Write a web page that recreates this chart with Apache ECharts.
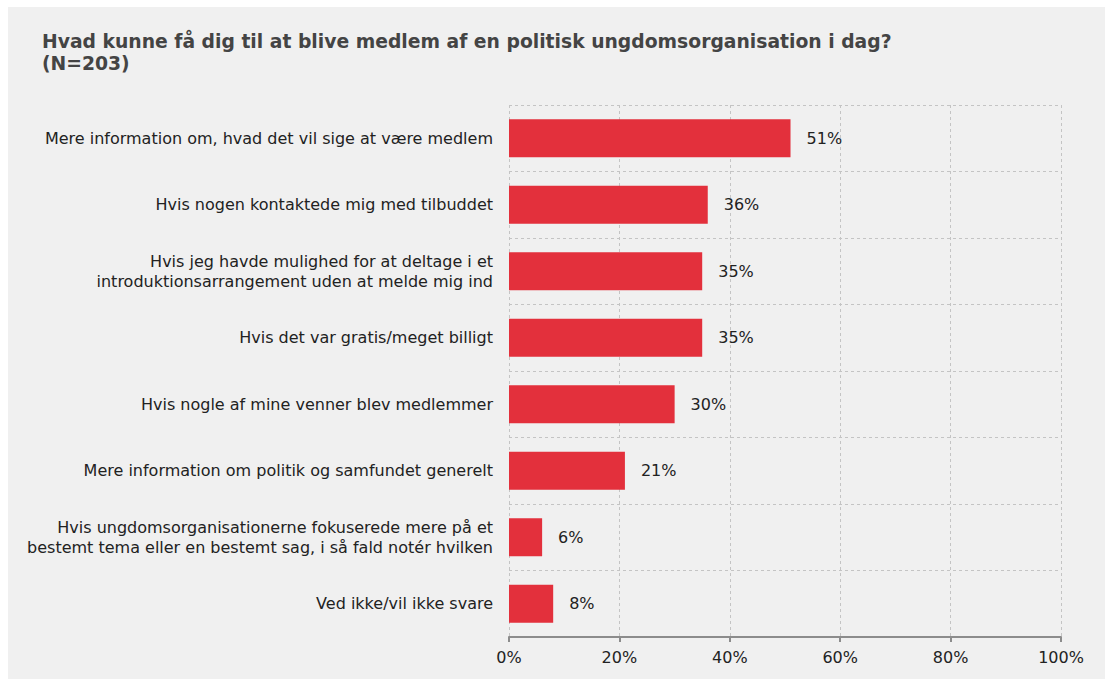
<!DOCTYPE html>
<html>
<head>
<meta charset="utf-8">
<script src="https://cdn.jsdelivr.net/npm/echarts@6/dist/echarts.min.js"></script>
<style>
html,body{margin:0;padding:0;background:#ffffff;font-family:"DejaVu Sans";}
#wrap{position:absolute;left:8px;top:7px;width:1097px;height:672px;background:#f0f0f0;}
#chart{width:1097px;height:672px;}
</style>
</head>
<body>
<div id="wrap"><div id="chart"></div></div>
<script>
const titleText = "Hvad kunne få dig til at blive medlem af en politisk ungdomsorganisation i dag?\n(N=203)";
const categories = [
  "Mere information om, hvad det vil sige at være medlem",
  "Hvis nogen kontaktede mig med tilbuddet",
  "Hvis jeg havde mulighed for at deltage i et\nintroduktionsarrangement uden at melde mig ind",
  "Hvis det var gratis/meget billigt",
  "Hvis nogle af mine venner blev medlemmer",
  "Mere information om politik og samfundet generelt",
  "Hvis ungdomsorganisationerne fokuserede mere på et\nbestemt tema eller en bestemt sag, i så fald notér hvilken",
  "Ved ikke/vil ikke svare"
];
const values = [51, 36, 35, 35, 30, 21, 6, 8];
const xTicks = [0, 20, 40, 60, 80, 100];

function draw() {
  const chart = echarts.init(document.getElementById('chart'), null, {renderer: 'svg'});
  const font = '"DejaVu Sans"';
  chart.setOption({
    backgroundColor: '#f0f0f0',
    animation: false,
    textStyle: {fontFamily: font},
    title: {
      text: titleText,
      left: 29,
      top: 18,
      textStyle: {fontFamily: font, fontSize: 18.75, fontWeight: 'bold', color: '#444444', lineHeight: 22.5}
    },
    grid: {left: 501, top: 98, right: 44, bottom: 42, containLabel: false},
    xAxis: {
      type: 'value',
      min: 0, max: 100, interval: 20,
      axisLine: {show: true, lineStyle: {color: '#8c8c8c', width: 2}},
      axisTick: {show: true, length: 5, lineStyle: {color: '#8c8c8c', width: 2}},
      axisLabel: {margin: 12, fontFamily: font, fontSize: 16, color: '#222222',
        formatter: v => xTicks.includes(v) ? v + '%' : ''},
      splitLine: {show: true, lineStyle: {color: '#c4c4c4', type: [3, 3], width: 1}}
    },
    yAxis: {
      type: 'category',
      data: categories,
      inverse: true,
      boundaryGap: true,
      axisLine: {show: false},
      axisTick: {show: false},
      axisLabel: {margin: 16, fontFamily: font, fontSize: 16, color: '#222222', lineHeight: 20, align: 'right'},
      splitLine: {show: true, lineStyle: {color: '#c4c4c4', type: [3, 3], width: 1}}
    },
    series: [{
      type: 'bar',
      data: values,
      barWidth: 38,
      itemStyle: {color: '#e3303c'},
      label: {show: true, position: 'right', distance: 16, formatter: '{c}%',
        fontFamily: font, fontSize: 16, color: '#222222'}
    }]
  });
}
if (document.fonts && document.fonts.load) {
  Promise.all([
    document.fonts.load('16px "DejaVu Sans"'),
    document.fonts.load('bold 18px "DejaVu Sans"')
  ]).then(draw, draw);
} else { draw(); }
</script>
</body>
</html>
